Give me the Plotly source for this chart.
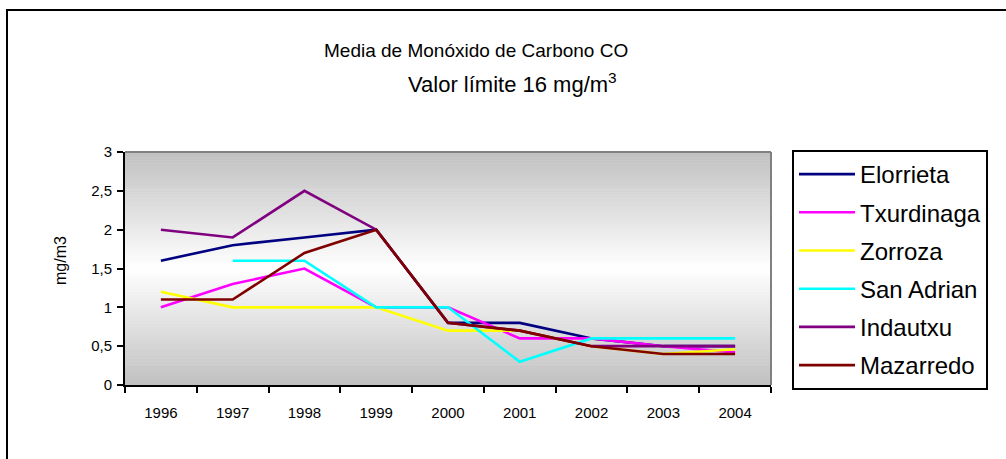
import plotly.graph_objects as go

# Annual mean CO concentration per monitoring station (mg/m3)
years = ["1996", "1997", "1998", "1999", "2000", "2001", "2002", "2003", "2004"]
elorrieta = [1.6, 1.8, 1.9, 2.0, 0.8, 0.8, 0.6, 0.5, 0.5]
txurdinaga = [1.0, 1.3, 1.5, 1.0, 1.0, 0.6, 0.6, 0.5, 0.42]
zorroza = [1.2, 1.0, 1.0, 1.0, 0.7, 0.7, 0.5, 0.4, 0.46]
san_adrian = [None, 1.6, 1.6, 1.0, 1.0, 0.3, 0.6, 0.6, 0.6]
indautxu = [2.0, 1.9, 2.5, 2.0, 0.8, 0.7, 0.5, 0.5, 0.5]
mazarredo = [1.1, 1.1, 1.7, 2.0, 0.8, 0.7, 0.5, 0.4, 0.4]

series = [
    ("Elorrieta", elorrieta, "#000080"),
    ("Txurdinaga", txurdinaga, "#FF00FF"),
    ("Zorroza", zorroza, "#FFFF00"),
    ("San Adrian", san_adrian, "#00FFFF"),
    ("Indautxu", indautxu, "#800080"),
    ("Mazarredo", mazarredo, "#800000"),
]

W, H = 1006, 459
L, R, T, B = 125, 771, 152, 385  # plot area in pixels

FONT = "Liberation Sans, Arial, sans-serif"

fig = go.Figure()
for name, vals, col in series:
    fig.add_trace(go.Scatter(
        x=years, y=vals, name=name, mode="lines",
        line=dict(color=col, width=2.6),
        legendgroup=name, connectgaps=False,
    ))


def px_x(px):
    return (px - L) / (R - L)


def px_y(py):
    return (B - py) / (B - T)


shapes = []
# vertical gray-white-gray gradient behind the plot
n = 80
for i in range(n):
    t0, t1 = i / n, (i + 1) / n
    tm = (t0 + t1) / 2
    v = int(round(192 + 63 * (1 - abs(2 * tm - 1))))
    shapes.append(dict(
        type="rect", xref="x domain", yref="y domain",
        x0=0, x1=1, y0=t0, y1=t1 + 0.002,
        fillcolor=f"rgb({v},{v},{v})", line=dict(width=0), layer="below",
    ))
# gray top and right edges of the plot area
shapes.append(dict(type="line", xref="x domain", yref="y domain",
                   x0=0, x1=1, y0=1, y1=1, line=dict(color="#808080", width=2)))
shapes.append(dict(type="line", xref="x domain", yref="y domain",
                   x0=1, x1=1, y0=0, y1=1, line=dict(color="#808080", width=2)))
# outer chart frame
shapes.append(dict(type="rect", xref="paper", yref="paper",
                   x0=px_x(7), x1=px_x(1040), y0=px_y(500), y1=px_y(10),
                   line=dict(color="black", width=2), fillcolor="rgba(0,0,0,0)"))

annotations = [
    dict(text="Media de Monóxido de Carbono CO", xref="paper", yref="paper",
         x=px_x(476), y=px_y(50), xanchor="center", yanchor="middle",
         showarrow=False, font=dict(family=FONT, size=19, color="black")),
    dict(text="Valor límite 16 mg/m<sup>3</sup>", xref="paper", yref="paper",
         x=px_x(512), y=px_y(83), xanchor="center", yanchor="middle",
         showarrow=False, font=dict(family=FONT, size=22, color="black")),
    dict(text="mg/m3", xref="paper", yref="paper", textangle=-90,
         x=px_x(60), y=px_y(261), xanchor="center", yanchor="middle",
         showarrow=False, font=dict(family=FONT, size=16, color="black")),
]

fig.update_layout(
    width=W, height=H,
    margin=dict(l=L, r=W - R, t=T, b=H - B, autoexpand=False),
    paper_bgcolor="white", plot_bgcolor="white",
    separators=", ",
    font=dict(family=FONT, size=15, color="black"),
    shapes=shapes, annotations=annotations,
    showlegend=True,
    legend=dict(
        x=px_x(792), y=px_y(150), xanchor="left", yanchor="top",
        bordercolor="black", borderwidth=2, bgcolor="white",
        font=dict(family=FONT, size=24, color="black"),
        itemwidth=56, tracegroupgap=4, traceorder="grouped",
        entrywidth=213, maxheight=320,
    ),
    xaxis=dict(
        type="category", tickson="boundaries", showgrid=False,
        showline=True, linecolor="black", linewidth=2,
        ticks="outside", ticklen=6, tickwidth=2, tickcolor="black",
        ticklabelstandoff=13, zeroline=False,
        tickfont=dict(family=FONT, size=15, color="black"),
        range=[-0.5, len(years) - 0.5],
    ),
    yaxis=dict(
        range=[0, 3], dtick=0.5, tick0=0, showgrid=False, zeroline=False,
        showline=True, linecolor="black", linewidth=2,
        ticks="outside", ticklen=6, tickwidth=2, tickcolor="black",
        ticklabelstandoff=2,
        tickfont=dict(family=FONT, size=15, color="black"),
    ),
)

fig.write_html("out.html")
